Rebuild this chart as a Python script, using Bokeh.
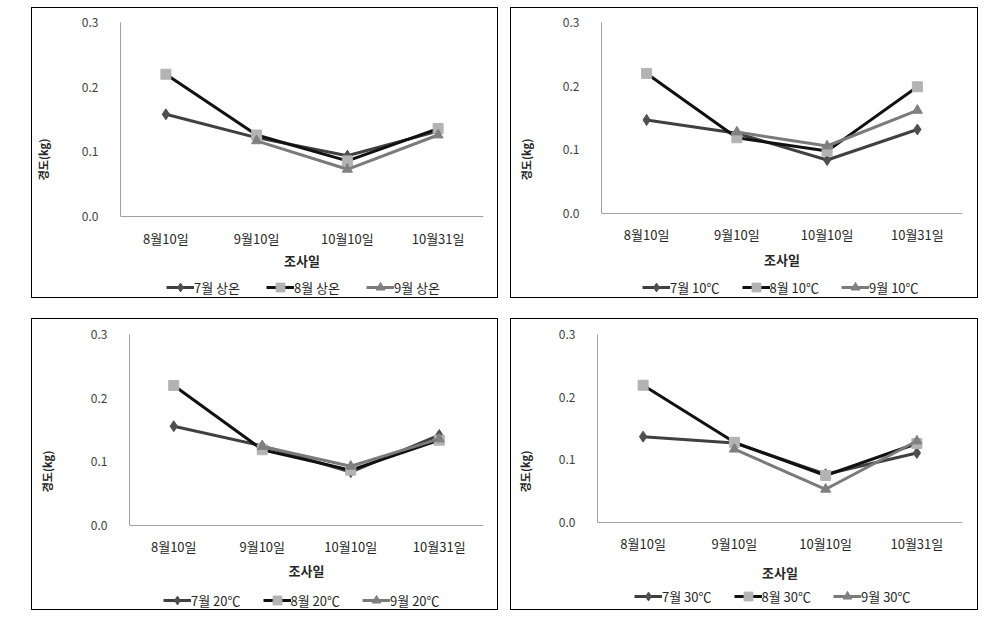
from bokeh.plotting import figure
from bokeh.models import FactorRange, Range1d, Legend, LegendItem, Spacer, FixedTicker, NumeralTickFormatter
from bokeh.layouts import row, column
from bokeh.embed import file_html
from bokeh.resources import INLINE

NaN = float("nan")

dates = ["8월10일", "9월10일", "10월10일", "10월31일"]
y_ticks = [0.0, 0.1, 0.2, 0.3]
x_title = "조사일"
y_title = "경도(kg)"

# panel 1: 상온
p1_names = ["7월 상온", "8월 상온", "9월 상온"]
p1_jul = [0.158, 0.122, 0.094, 0.132]
p1_aug = [0.220, 0.126, 0.086, 0.136]
p1_sep = [NaN, 0.117, 0.073, 0.126]

# panel 2: 10℃
p2_names = ["7월 10℃", "8월 10℃", "9월 10℃"]
p2_jul = [0.147, 0.126, 0.084, 0.132]
p2_aug = [0.220, 0.119, 0.098, 0.199]
p2_sep = [NaN, 0.128, 0.106, 0.162]

# panel 3: 20℃
p3_names = ["7월 20℃", "8월 20℃", "9월 20℃"]
p3_jul = [0.156, 0.125, 0.084, 0.142]
p3_aug = [0.220, 0.119, 0.087, 0.134]
p3_sep = [NaN, 0.124, 0.093, 0.136]

# panel 4: 30℃
p4_names = ["7월 30℃", "8월 30℃", "9월 30℃"]
p4_jul = [0.137, 0.127, 0.077, 0.111]
p4_aug = [0.219, 0.128, 0.075, 0.126]
p4_sep = [NaN, 0.117, 0.053, 0.130]

FONT = "Noto Sans CJK KR"
Y_MAX = 0.3


def make_panel(names, jul, aug, sep, fw, fh, below, bl, br, bt, bb,
               tick_standoff, xlab_standoff, ylab_standoff, leg_x, leg_y, leg_spacing):
    p = figure(x_range=FactorRange(*dates), y_range=Range1d(-Y_MAX * below / fh, Y_MAX),
               width=bl + fw + br, height=bt + fh + below + bb, sizing_mode="fixed",
               min_border_left=bl, min_border_right=br, min_border_top=bt, min_border_bottom=bb,
               output_backend="svg", toolbar_location=None,
               background_fill_color="white", border_fill_color=None)
    p.styles = {"outline": "1px solid #000000", "outline-offset": "-1px"}
    p.outline_line_color = None
    p.grid.visible = False

    series = [
        (jul, "#404040", "#505050", "diamond", 11),
        (aug, "#111111", "#b3b3b3", "square", 10),
        (sep, "#7a7a7a", "#808080", "triangle", 10),
    ]
    items = []
    for vals, lc, mc, mk, ms in series:
        xs = [d for d, v in zip(dates, vals) if v == v]
        ys = [v for v in vals if v == v]
        l = p.line(xs, ys, line_color=lc, line_width=3)
        s = p.scatter(xs, ys, marker=mk, size=ms, fill_color=mc, line_color=mc)
        items.append((l, s))

    xa = p.xaxis[0]
    xa.fixed_location = 0
    xa.axis_line_color = "#a0a0a0"
    xa.major_tick_line_color = None
    xa.minor_tick_line_color = None
    xa.major_label_standoff = tick_standoff
    xa.major_label_text_font = FONT
    xa.major_label_text_font_size = "13px"
    xa.major_label_text_color = "#262626"
    xa.axis_label = x_title
    xa.axis_label_text_font = FONT
    xa.axis_label_text_font_size = "13px"
    xa.axis_label_text_font_style = "bold"
    xa.axis_label_text_color = "#262626"
    xa.axis_label_standoff = xlab_standoff

    ya = p.yaxis[0]
    ya.bounds = (0, Y_MAX)
    ya.ticker = FixedTicker(ticks=y_ticks)
    ya.formatter = NumeralTickFormatter(format="0.0")
    ya.axis_line_color = "#a0a0a0"
    ya.major_tick_line_color = None
    ya.minor_tick_line_color = None
    ya.major_label_standoff = 16
    ya.major_label_text_font = FONT
    ya.major_label_text_font_size = "12px"
    ya.major_label_text_color = "#404040"
    ya.axis_label = y_title
    ya.axis_label_text_font = FONT
    ya.axis_label_text_font_size = "11px"
    ya.axis_label_text_font_style = "bold"
    ya.axis_label_text_color = "#262626"
    ya.axis_label_standoff = ylab_standoff

    legend = Legend(items=[LegendItem(label=n, renderers=[l, s]) for n, (l, s) in zip(names, items)],
                    orientation="horizontal", location=(leg_x, leg_y),
                    border_line_color=None, background_fill_alpha=0,
                    label_text_font=FONT, label_text_font_size="13px", label_text_color="#262626",
                    glyph_width=28, glyph_height=22, spacing=leg_spacing, label_standoff=0,
                    padding=0, margin=0)
    p.add_layout(legend, "center")
    return p


p1 = make_panel(p1_names, p1_jul, p1_aug, p1_sep, 364, 194, 80, 88, 15, 15, 2, 6, 0, 28, 46, -2, 26)
p2 = make_panel(p2_names, p2_jul, p2_aug, p2_sep, 361, 191, 83, 91, 16, 15, 2, 5, 3, 26, 41, -2, 22)
p3 = make_panel(p3_names, p3_jul, p3_aug, p3_sep, 354, 191, 83, 98, 15, 16, 2, 5, 2, 33, 34, -3, 22)
p4 = make_panel(p4_names, p4_jul, p4_aug, p4_sep, 365, 188, 86, 87, 16, 16, 2, 5, 7, 23, 37, 1, 22)

layout = column(
    Spacer(width=10, height=7, sizing_mode="fixed"),
    row(Spacer(width=31, height=291, sizing_mode="fixed"), p1,
        Spacer(width=12, height=291, sizing_mode="fixed"), p2, sizing_mode="fixed"),
    Spacer(width=10, height=20, sizing_mode="fixed"),
    row(Spacer(width=31, height=292, sizing_mode="fixed"), p3,
        Spacer(width=12, height=292, sizing_mode="fixed"), p4, sizing_mode="fixed"),
    sizing_mode="fixed",
)

open("out.html", "w").write(file_html(layout, INLINE))
